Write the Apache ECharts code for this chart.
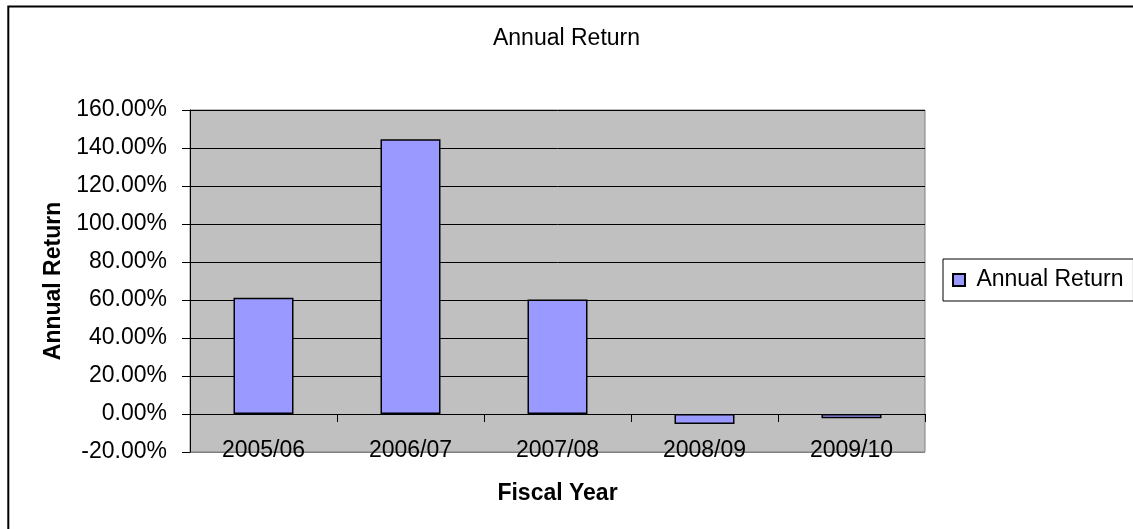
<!DOCTYPE html>
<html>
<head>
<meta charset="utf-8">
<script src="https://cdn.jsdelivr.net/npm/echarts@6/dist/echarts.min.js"></script>
<style>
html,body{margin:0;padding:0;background:#fff;}
#chart{width:1133px;height:529px;}
</style>
</head>
<body>
<div id="chart"></div>
<script>
const categories = ['2005/06', '2006/07', '2007/08', '2008/09', '2009/10'];
const annualReturn = [61.2, 144.6, 60.2, -5.2, -2.2];
const yMin = -20, yMax = 160, yStep = 20;
const seriesName = 'Annual Return';
const titleText = 'Annual Return';
const xName = 'Fiscal Year';
const yName = 'Annual Return';

const FONT = "'Liberation Sans', Arial, sans-serif";
const chart = echarts.init(document.getElementById('chart'), null, {renderer: 'canvas'});
const nLines = (yMax - yMin) / yStep + 1;
const splitColors = [];
for (let i = 0; i < nLines; i++) splitColors.push(i === 0 ? '#808080' : '#000000');

chart.setOption({
  animation: false,
  backgroundColor: '#ffffff',
  textStyle: {fontFamily: FONT},
  title: {
    text: titleText, left: 'center', top: 27, padding: 0,
    textStyle: {fontFamily: FONT, fontSize: 23, fontWeight: 'normal', color: '#000'}
  },
  graphic: [{
    type: 'rect', silent: true, z: 100,
    shape: {x: 8.3, y: 6.5, width: 1140, height: 540},
    style: {fill: 'none', stroke: '#000', lineWidth: 2}
  }],
  legend: {
    left: 943, top: 259, orient: 'vertical',
    padding: [9, 10, 9, 9],
    borderColor: '#000', borderWidth: 1, backgroundColor: '#fff',
    itemWidth: 12, itemHeight: 12, icon: 'rect',
    formatter: ' {name}',
    textStyle: {fontFamily: FONT, fontSize: 23, color: '#000', lineHeight: 24},
    data: [seriesName]
  },
  grid: {
    left: 190, top: 110, width: 735, height: 342,
    outerBoundsMode: 'none', containLabel: false,
    show: true, backgroundColor: '#C0C0C0', borderColor: '#808080', borderWidth: 1
  },
  xAxis: {
    type: 'category', data: categories,
    name: xName, nameLocation: 'middle', nameGap: 30,
    nameTextStyle: {fontFamily: FONT, fontSize: 23, fontWeight: 'bold', color: '#000'},
    axisLine: {onZero: true, lineStyle: {color: '#000', width: 1}},
    axisTick: {show: true, length: 8, lineStyle: {color: '#000'}},
    axisLabel: {margin: -13, fontFamily: FONT, fontSize: 23, color: '#000'},
    splitLine: {show: false}
  },
  yAxis: {
    type: 'value', min: yMin, max: yMax, interval: yStep,
    name: yName, nameLocation: 'middle', nameGap: 122,
    nameTextStyle: {fontFamily: FONT, fontSize: 23, fontWeight: 'bold', color: '#000'},
    axisLine: {show: true, lineStyle: {color: '#000', width: 1}},
    axisTick: {show: true, length: 8, lineStyle: {color: '#000'}},
    axisLabel: {margin: 23, fontFamily: FONT, fontSize: 23, color: '#000',
      formatter: v => v.toFixed(2) + '%'},
    splitLine: {show: true, lineStyle: {color: splitColors, width: 1}}
  },
  series: [{
    name: seriesName, type: 'bar', data: annualReturn, barWidth: 60,
    itemStyle: {color: '#9999FF', borderColor: '#000', borderWidth: 1.5}
  }]
});
</script>
</body>
</html>
